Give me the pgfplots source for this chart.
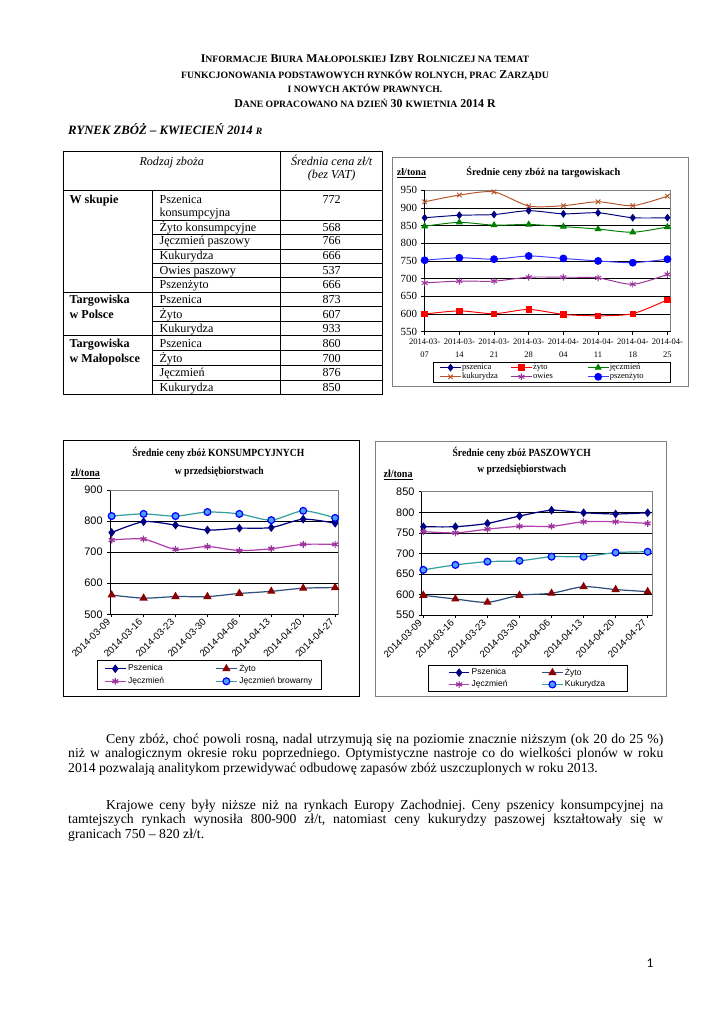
\documentclass[border=0pt]{standalone}
\usepackage{fontspec}
\setmainfont{Liberation Serif}
\newfontfamily\arial{Liberation Sans}
\newfontfamily\calibri{Carlito}
\usepackage{graphicx}
\usepackage{pgfplots}
\pgfplotsset{compat=1.18}
\frenchspacing

\definecolor{cNavy}{HTML}{000080}
\definecolor{cRed}{HTML}{FF0000}
\definecolor{cGreen}{HTML}{008000}
\definecolor{cBrown}{HTML}{B8562B}
\definecolor{cPurple}{HTML}{993399}
\definecolor{cBlue}{HTML}{0000FF}
\definecolor{cBlueLine}{HTML}{4040FF}
\definecolor{cSlate}{HTML}{2F4F7F}
\definecolor{cDRed}{HTML}{8B0000}
\definecolor{cMag}{HTML}{B040B0}
\definecolor{cTeal}{HTML}{33A0A0}
\definecolor{cLBlue}{HTML}{4DA0FF}
\definecolor{cFrame}{HTML}{808080}

\newcommand\Sc[1]{{\fontsize{8}{9}\selectfont #1}}
\newcommand\Bg[1]{{\fontsize{9.8}{12}\selectfont #1}}
\newcommand\tf{\fontsize{10}{12}\selectfont}
\newcommand\bodyf{\fontsize{11.3}{13}\selectfont\frenchspacing}

\pgfplotsset{
  pagechart/.style={
    scale only axis, anchor=south west, clip=false,
    xtick={0,...,7}, tick align=outside, tick pos=left,
    major tick length=2.5bp, tick style={black, line width=0.5bp},
    axis line style={draw=cFrame, line width=0.5bp},
    ymajorgrids, grid style={black, line width=0.5bp},
    /pgf/number format/assume math mode=true,
    legend cell align=left,
  },
}

\begin{document}
\begin{tikzpicture}[x=0.8211bp,y=-0.8211bp]
\fill[white] (0,0) rectangle (725,1024);

% ---------- header ----------
\begin{scope}[every node/.style={inner sep=0pt, anchor=base, font=\bfseries}]
\node at (365,62.5) {\Bg{I}\Sc{NFORMACJE} \Bg{B}\Sc{IURA} \Bg{M}\Sc{AŁOPOLSKIEJ} \Bg{I}\Sc{ZBY} \Bg{R}\Sc{OLNICZEJ NA TEMAT}};
\node at (365,78.5) {\Sc{FUNKCJONOWANIA PODSTAWOWYCH RYNKÓW ROLNYCH, PRAC} \Bg{Z}\Sc{ARZĄDU}};
\node at (365,92.5) {\Sc{I NOWYCH AKTÓW PRAWNYCH.}};
\node at (365,107.5) {\Bg{D}\Sc{ANE OPRACOWANO NA DZIEŃ} \Bg{30} \Sc{KWIETNIA} \Bg{2014 R}};
\end{scope}
\node[inner sep=0pt, anchor=base west, font=\fontsize{10.5}{12}\selectfont\bfseries\itshape] at (68,134) {RYNEK ZBÓŻ – KWIECIEŃ 2014 {\fontsize{8}{9}\selectfont R}};

% ---------- table ----------
\begin{scope}[line width=0.5bp]
\draw (63.3,151.7) rectangle (382.7,394.3);
\draw (63.3,190.7) -- (382.7,190.7);
\draw (63.3,292.3) -- (382.7,292.3);
\draw (63.3,335.7) -- (382.7,335.7);
\foreach \yy in {220,234.3,249,263.3,277.7,306.7,321.7,350.7,365,380} \draw (152.7,\yy) -- (382.7,\yy);
\draw (152.7,190.7) -- (152.7,394.3);
\draw (280.7,151.7) -- (280.7,394.3);
\end{scope}
\begin{scope}[every node/.style={inner sep=0pt, font=\tf}]
\node[anchor=base, font=\tf\itshape] at (171.7,165) {Rodzaj zboża};
\node[anchor=base, font=\tf\itshape] at (331.7,165) {Średnia cena zł/t};
\node[anchor=base, font=\tf\itshape] at (331.7,178.5) {(bez VAT)};
\node[anchor=base west, font=\tf\bfseries] at (69.3,203) {W skupie};
\node[anchor=base west, font=\tf\bfseries] at (69.3,303.5) {Targowiska};
\node[anchor=base west, font=\tf\bfseries] at (69.3,318) {w Polsce};
\node[anchor=base west, font=\tf\bfseries] at (69.3,347) {Targowiska};
\node[anchor=base west, font=\tf\bfseries] at (69.3,362) {w Małopolsce};
\foreach \yy/\nm/\val in {203/Pszenica/772, 231/Żyto konsumpcyjne/568, 244.5/Jęczmień paszowy/766, 259.5/Kukurydza/666, 274/Owies paszowy/537, 288.5/Pszenżyto/666, 303.5/Pszenica/873, 318/Żyto/607, 332.5/Kukurydza/933, 347/Pszenica/860, 362/Żyto/700, 376/Jęczmień/876, 391/Kukurydza/850}{
  \node[anchor=base west] at (159.3,\yy) {\nm};
  \node[anchor=base] at (331.7,\yy) {\val};
}
\node[anchor=base west] at (159.3,216) {konsumpcyjna};
\end{scope}

% ---------- chart 1: targowiska ----------
\draw[cFrame, line width=0.6bp] (392.7,157) rectangle (688,386.7);
\node[anchor=base, inner sep=0pt, font=\fontsize{8.5}{10}\selectfont\bfseries] at (543.3,175.5) {Średnie ceny zbóż na targowiskach};
\node[anchor=base west, inner sep=0pt, font=\fontsize{8.3}{10}\selectfont\bfseries] at (396.7,175.5) {\underline{zł/tona}};
\begin{axis}[pagechart,
  at={(348.4bp,-272.4bp)}, width=202.2bp, height=116.3bp,
  xmin=-0.01, xmax=7.09, ymin=550, ymax=950, ytick={550,600,...,950},
  xticklabels={{2014-03-\\07},{2014-03-\\14},{2014-03-\\21},{2014-03-\\28},{2014-04-\\04},{2014-04-\\11},{2014-04-\\18},{2014-04-\\25}},
  xticklabel style={align=center, font=\fontsize{7}{10.7}\selectfont},
  yticklabel style={font=\fontsize{9}{10}\selectfont},
  legend columns=3,
  legend style={at={(0.0366,-0.21)}, anchor=north west, draw=black, line width=0.5bp,
    font=\fontsize{7}{7}\selectfont, inner xsep=5bp, inner ysep=1bp,
    nodes={inner sep=0.6bp}},
  every axis plot/.append style={line width=0.8bp, smooth, tension=0.45},
]
\addplot[cNavy, mark=diamond*, mark size=2.6bp, mark options={solid, fill=cNavy}] coordinates {(0,872) (1,879) (2,881) (3,892) (4,883) (5,886) (6,872) (7,872)};
\addlegendentry{\makebox[39.2bp][l]{pszenica}}
\addplot[cRed, mark=square*, mark size=2.2bp, mark options={solid, fill=cRed}] coordinates {(0,600) (1,609) (2,601) (3,613) (4,599) (5,595) (6,601) (7,640)};
\addlegendentry{\makebox[44bp][l]{żyto}}
\addplot[cGreen, mark=triangle*, mark size=2.6bp, mark options={solid, fill=cGreen}] coordinates {(0,848) (1,859) (2,851) (3,853) (4,847) (5,840) (6,831) (7,846)};
\addlegendentry{\makebox[44bp][l]{jęczmień}}
\addplot[cBrown, mark=x, mark size=2.6bp, mark options={solid}] coordinates {(0,917) (1,936) (2,945) (3,905) (4,906) (5,917) (6,906) (7,933)};
\addlegendentry{\makebox[39.2bp][l]{kukurydza}}
\addplot[cPurple, mark=asterisk, mark size=2.8bp, mark options={solid}] coordinates {(0,688) (1,693) (2,693) (3,704) (4,704) (5,702) (6,684) (7,712)};
\addlegendentry{\makebox[44bp][l]{owies}}
\addplot[cBlueLine, mark=*, mark size=2.8bp, mark options={solid, fill=cBlue, draw=cBlue}] coordinates {(0,752) (1,759) (2,755) (3,764) (4,757) (5,750) (6,745) (7,755)};
\addlegendentry{\makebox[44bp][l]{pszenżyto}}
\draw[black, line width=0.5bp] (rel axis cs:0,1) -- (rel axis cs:0,0) -- (rel axis cs:1,0);
\end{axis}

% ---------- chart 2: konsumpcyjne ----------
\draw[black, line width=0.6bp] (63.3,440) rectangle (359.3,696);
\node[anchor=base, inner sep=0pt, font=\fontsize{9}{10}\selectfont\bfseries] at (218.3,456.5) {\scalebox{0.88}[1]{Średnie ceny zbóż KONSUMPCYJNYCH}};
\node[anchor=base, inner sep=0pt, font=\fontsize{9}{10}\selectfont\bfseries] at (219.3,474) {\scalebox{0.88}[1]{w przedsiębiorstwach}};
\node[anchor=base west, inner sep=0pt, font=\fontsize{9}{10}\selectfont\bfseries] at (70.7,476.5) {\scalebox{0.92}[1]{\underline{zł/tona}}};
\begin{axis}[pagechart,
  at={(90.3bp,-504.4bp)}, width=187.5bp, height=102.1bp,
  xmin=-0.053, xmax=7.10, ymin=500, ymax=900, ytick={500,600,...,900},
  xticklabels={2014-03-09,2014-03-16,2014-03-23,2014-03-30,2014-04-06,2014-04-13,2014-04-20,2014-04-27},
  xticklabel style={rotate=45, anchor=east, font=\arial\fontsize{8}{9}\selectfont},
  yticklabel style={font=\arial\fontsize{9}{10}\selectfont},
  legend columns=2,
  legend style={at={(-0.058,-0.368)}, anchor=north west, draw=black, line width=0.5bp,
    font=\arial\fontsize{7}{8}\selectfont, inner xsep=6bp, inner ysep=1.5bp,
    nodes={inner sep=1.6bp}},
  every axis plot/.append style={line width=1bp, smooth, tension=0.45},
]
\addplot[cNavy, mark=diamond*, mark size=2.8bp, mark options={solid, fill=cNavy}] coordinates {(0,763) (1,798) (2,787) (3,771) (4,777) (5,779) (6,806) (7,793)};
\addlegendentry{\makebox[70bp][l]{Pszenica}}
\addplot[cSlate, mark=triangle*, mark size=3bp, mark options={solid, fill=cDRed, draw=cDRed}] coordinates {(0,562) (1,552) (2,557) (3,557) (4,567) (5,574) (6,584) (7,586)};
\addlegendentry{\makebox[60bp][l]{Żyto}}
\addplot[cMag, mark=asterisk, mark size=2.8bp, mark options={solid, draw=cPurple}] coordinates {(0,739) (1,742) (2,709) (3,718) (4,705) (5,711) (6,725) (7,725)};
\addlegendentry{\makebox[70bp][l]{Jęczmień}}
\addplot[cTeal, mark=*, mark size=2.8bp, mark options={solid, fill=cLBlue, draw=cBlue}] coordinates {(0,816) (1,823) (2,816) (3,829) (4,823) (5,803) (6,833) (7,810)};
\addlegendentry{\makebox[60bp][l]{Jęczmień browarny}}
\draw[black, line width=0.5bp] (rel axis cs:0,1) -- (rel axis cs:0,0) -- (rel axis cs:1,0);
\draw[cFrame, line width=0.5bp] (rel axis cs:0,1) -- (rel axis cs:1,1) -- (rel axis cs:1,0);
\end{axis}

% ---------- chart 3: paszowe ----------
\draw[cFrame, line width=0.6bp] (375,441.7) rectangle (666,696);
\node[anchor=base, inner sep=0pt, font=\fontsize{9}{10}\selectfont\bfseries] at (521.7,456.5) {\scalebox{0.88}[1]{Średnie ceny zbóż PASZOWYCH}};
\node[anchor=base, inner sep=0pt, font=\fontsize{9}{10}\selectfont\bfseries] at (521.7,472.5) {\scalebox{0.88}[1]{w przedsiębiorstwach}};
\node[anchor=base west, inner sep=0pt, font=\fontsize{9}{10}\selectfont\bfseries] at (383.3,477.5) {\scalebox{0.92}[1]{\underline{zł/tona}}};
\begin{axis}[pagechart,
  at={(346.3bp,-505.0bp)}, width=188.9bp, height=101.2bp,
  xmin=-0.05, xmax=7.13, ymin=550, ymax=850, ytick={550,600,...,850},
  xticklabels={2014-03-09,2014-03-16,2014-03-23,2014-03-30,2014-04-06,2014-04-13,2014-04-20,2014-04-27},
  xticklabel style={rotate=45, anchor=east, font=\arial\fontsize{8}{9}\selectfont},
  yticklabel style={font=\arial\fontsize{9}{10}\selectfont},
  legend columns=2,
  legend style={at={(0.0287,-0.405)}, anchor=north west, draw=black, line width=0.5bp,
    font=\arial\fontsize{7}{8}\selectfont, inner xsep=16bp, inner ysep=1bp,
    nodes={inner sep=1.3bp}},
  every axis plot/.append style={line width=1bp, smooth, tension=0.45},
]
\addplot[cNavy, mark=diamond*, mark size=2.8bp, mark options={solid, fill=cNavy}] coordinates {(0,765) (1,765) (2,773) (3,791) (4,805) (5,799) (6,796) (7,799)};
\addlegendentry{\makebox[56bp][l]{Pszenica}}
\addplot[cSlate, mark=triangle*, mark size=3bp, mark options={solid, fill=cDRed, draw=cDRed}] coordinates {(0,598) (1,589) (2,581) (3,598) (4,603) (5,619) (6,612) (7,607)};
\addlegendentry{\makebox[34bp][l]{Żyto}}
\addplot[cMag, mark=asterisk, mark size=2.8bp, mark options={solid, draw=cPurple}] coordinates {(0,753) (1,750) (2,759) (3,766) (4,766) (5,777) (6,777) (7,773)};
\addlegendentry{\makebox[56bp][l]{Jęczmień}}
\addplot[cTeal, mark=*, mark size=2.8bp, mark options={solid, fill=cLBlue, draw=cBlue}] coordinates {(0,660) (1,672) (2,680) (3,682) (4,692) (5,692) (6,702) (7,704)};
\addlegendentry{\makebox[34bp][l]{Kukurydza}}
\draw[black, line width=0.5bp] (rel axis cs:0,1) -- (rel axis cs:0,0) -- (rel axis cs:1,0);
\draw[cFrame, line width=0.5bp] (rel axis cs:0,1) -- (rel axis cs:1,1) -- (rel axis cs:1,0);
\end{axis}

% ---------- body text ----------
\begin{scope}[every node/.style={inner sep=0pt, anchor=base west, font=\bodyf}]
\node at (106,743.5) {\makebox[457.4bp][s]{Ceny zbóż, choć powoli rosną, nadal utrzymują się na poziomie znacznie niższym (ok 20 do 25~\%)}};
\node at (68,757.5) {\makebox[488.6bp][s]{niż w analogicznym okresie roku poprzedniego. Optymistyczne nastroje co do wielkości plonów w roku}};
\node at (68,772) {2014 pozwalają analitykom przewidywać odbudowę zapasów zbóż uszczuplonych w roku 2013.};
\node at (106,809) {\makebox[457.4bp][s]{Krajowe ceny były niższe niż na rynkach Europy Zachodniej. Ceny pszenicy konsumpcyjnej na}};
\node at (68,823.5) {\makebox[488.6bp][s]{tamtejszych rynkach wynosiła 800-900 zł/t, natomiast ceny kukurydzy paszowej kształtowały się w}};
\node at (68,838) {granicach 750 – 820 zł/t.};
\end{scope}
\node[inner sep=0pt, anchor=base, font=\calibri\fontsize{11}{12}\selectfont] at (650,967) {1};
\end{tikzpicture}
\end{document}
